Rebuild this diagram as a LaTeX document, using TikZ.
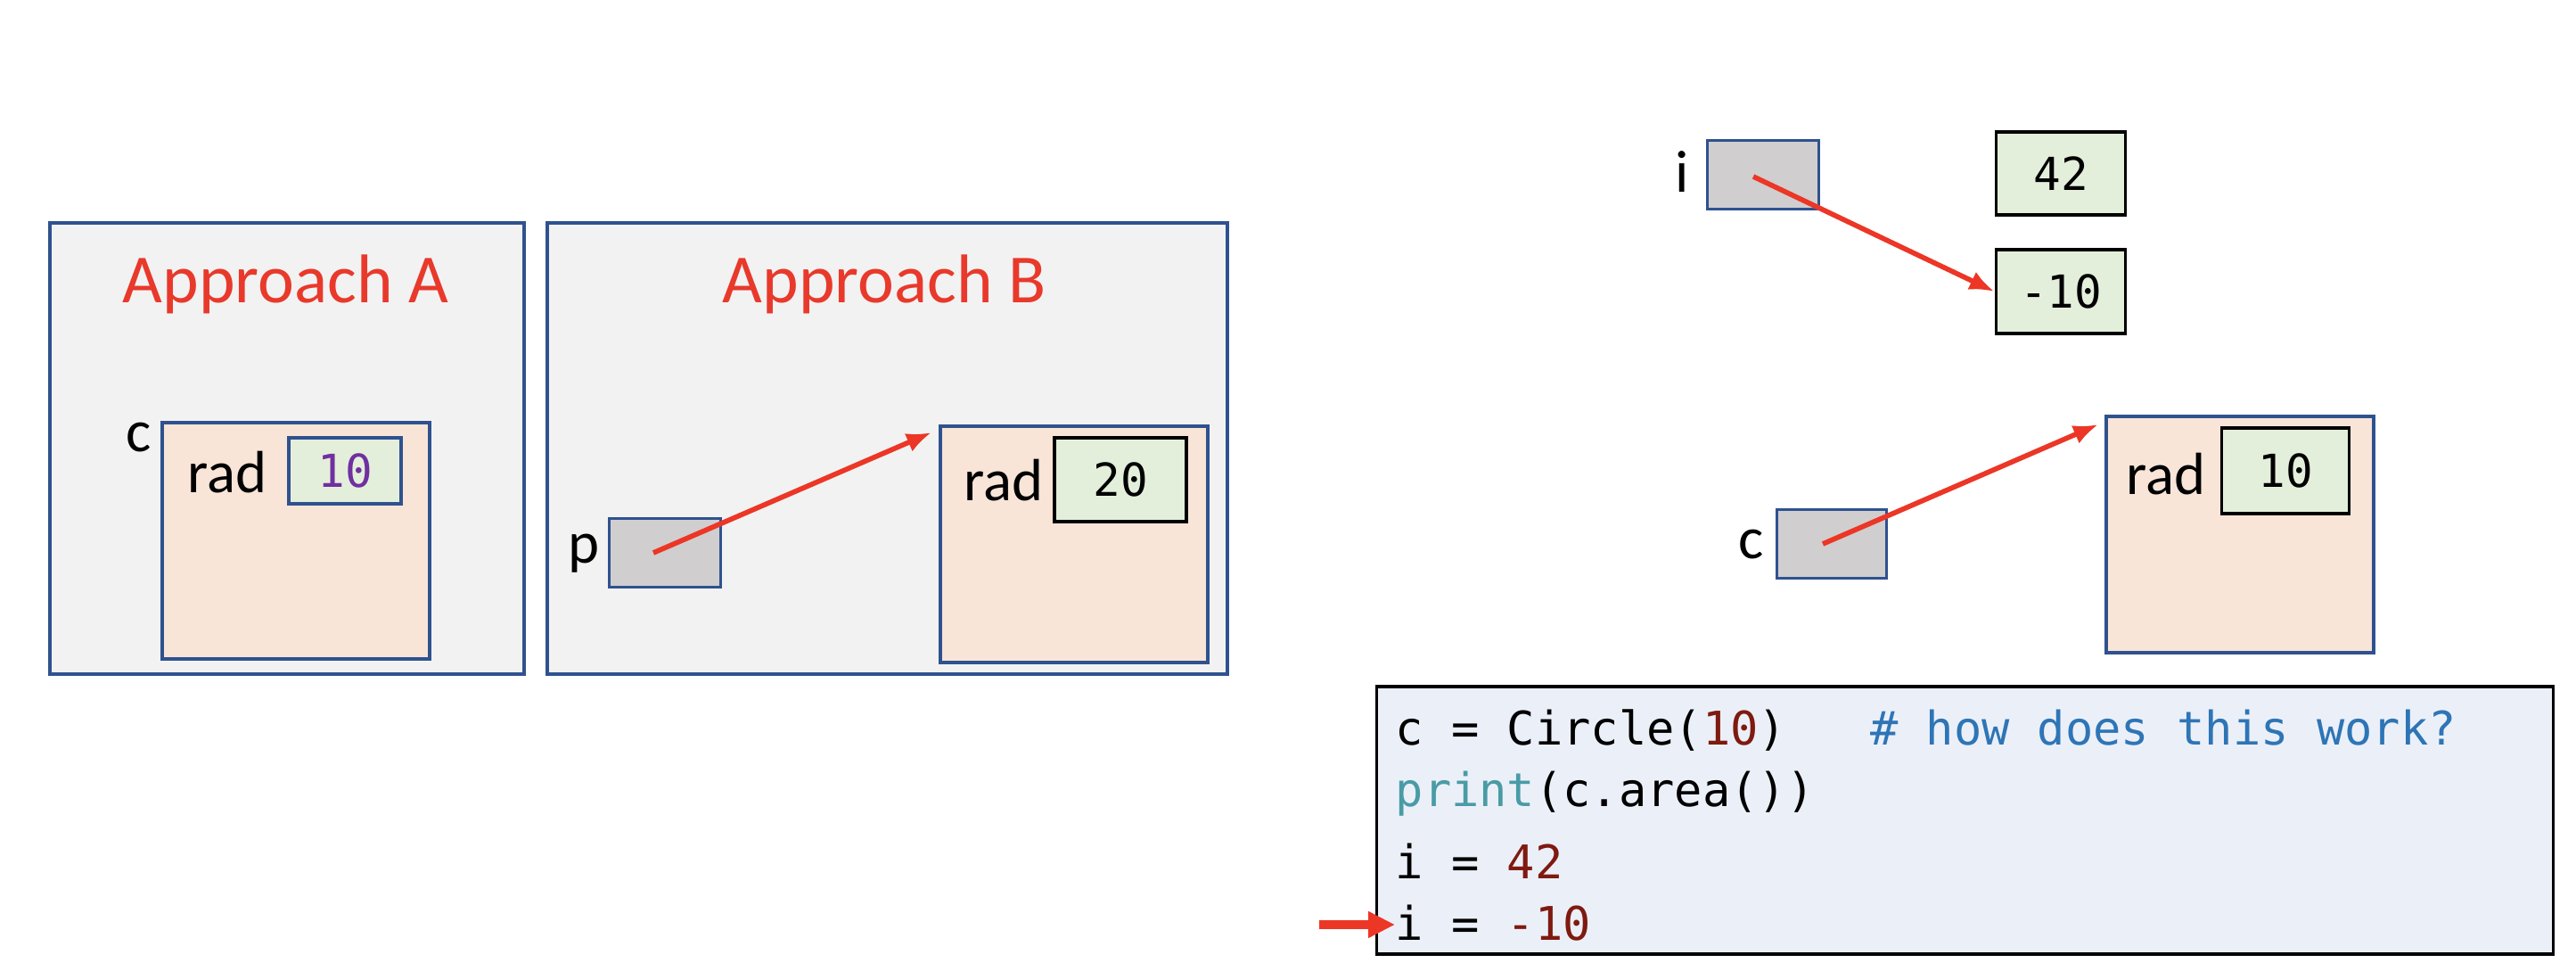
\documentclass[tikz,border=0pt]{standalone}
\usepackage{fontspec}
\setmainfont{Carlito}
\newfontfamily\codefont{DejaVu Sans Mono}
\usetikzlibrary{arrows.meta}
\definecolor{panelfill}{HTML}{F2F2F2}
\definecolor{boxblue}{HTML}{2F528F}
\definecolor{objfill}{HTML}{F8E5D8}
\definecolor{valfill}{HTML}{E4EFDB}
\definecolor{ptrfill}{HTML}{D0CECE}
\definecolor{ptrred}{HTML}{EC3626}
\definecolor{titlered}{HTML}{E8392B}
\definecolor{numpurple}{HTML}{7030A0}
\definecolor{numred}{HTML}{7F1A10}
\definecolor{cmtblue}{HTML}{2E75B6}
\definecolor{fnteal}{HTML}{4A9BA6}
\definecolor{codefill}{HTML}{EBF0F8}
\tikzset{
  panel/.style={shape=rectangle,draw=boxblue,fill=panelfill,line width=1.1pt,inner sep=0pt},
  objbox/.style={shape=rectangle,draw=boxblue,fill=objfill,line width=1.1pt,inner sep=0pt,
    minimum width=3.0cm,minimum height=2.65cm},
  valbox/.style={shape=rectangle,draw=black,fill=valfill,line width=1.1pt,inner sep=0pt,
    font=\codefont\fontsize{14.5}{17}\selectfont},
  ptrbox/.style={shape=rectangle,draw=boxblue,fill=ptrfill,line width=1.1pt,inner sep=0pt,
    minimum width=1.25cm,minimum height=0.77cm},
  varname/.style={font=\fontsize{19}{22}\selectfont,inner sep=0pt},
  title/.style={font=\fontsize{22}{26}\selectfont,text=titlered},
  codeline/.style={anchor=base west,inner sep=0pt,font=\codefont\fontsize{14.8}{18}\selectfont},
  ptr/.style={-{Latex[length=2.8mm,width=2.2mm]},line width=1.6pt,draw=ptrred}
}
\begin{document}
\begin{tikzpicture}
\fill[white] (0,0) rectangle (28.9,10.8);
\useasboundingbox (0,0) rectangle (28.9,10.8);

% approach A
\node(panelA) [panel,minimum width=5.32cm,minimum height=5.06cm] at (3.219,5.77) {};
\node(titleA) [title] at (3.204,7.61) {Approach A};
\node(objA) [objbox] at (3.323,4.735) {};
\node(cA) [varname] at (1.552,5.89) {c};
\node(radA) [varname] at (2.547,5.50) {rad};
\node(valA) [valbox,draw=boxblue,text=numpurple,minimum width=1.254cm,minimum height=0.74cm] at (3.871,5.52) {10};

% approach B
\node(panelB) [panel,minimum width=7.63cm,minimum height=5.06cm] at (9.955,5.77) {};
\node(titleB) [title] at (9.92,7.61) {Approach B};
\node(ptrB) [ptrbox] at (7.46,4.60) {};
\node(pB) [varname] at (6.547,4.59) {p};
\node(objB) [objbox] at (12.05,4.695) {};
\node(radB) [varname] at (11.26,5.41) {rad};
\node(valB) [valbox,minimum width=1.48cm,minimum height=0.94cm] at (12.57,5.42) {20};
\draw [ptr] ([xshift=-1.3mm]ptrB.center) -- ([xshift=-0.8mm,yshift=-0.9mm]objB.north west);

% i rebinding
\node(ptrI) [ptrbox] at (19.78,8.84) {};
\node(iR) [varname] at (18.87,8.87) {i};
\node(v42) [valbox,minimum width=1.45cm,minimum height=0.93cm] at (23.12,8.855) {42};
\node(vm10) [valbox,minimum width=1.45cm,minimum height=0.94cm] at (23.12,7.53) {-10};
\draw [ptr] ([xshift=-1.1mm,yshift=-0.2mm]ptrI.center) -- (vm10.west);

% c object
\node(ptrC) [ptrbox,minimum width=1.23cm] at (20.55,4.70) {};
\node(cR) [varname] at (19.65,4.69) {c};
\node(objR) [objbox] at (25.13,4.805) {};
\node(radR) [varname] at (24.30,5.48) {rad};
\node(valR) [valbox,minimum width=1.43cm,minimum height=0.96cm] at (25.64,5.52) {10};
\draw [ptr] ([xshift=-1mm]ptrC.center) -- ([xshift=-0.7mm,yshift=-1.1mm]objR.north west);

% code
\node(code) [shape=rectangle,draw=black,fill=codefill,line width=1.1pt,
  minimum width=13.2cm,minimum height=3.0cm] at (22.045,1.60) {};
\node(code1) [codeline] at (15.65,2.44) {c = Circle(\textcolor{numred}{10})~~~\textcolor{cmtblue}{\# how does this work?}};
\node(code2) [codeline] at (15.65,1.75) {\textcolor{fnteal}{print}(c.area())};
\node(code3) [codeline] at (15.65,0.94) {i = \textcolor{numred}{42}};
\node(code4) [codeline] at (15.65,0.25) {i = \textcolor{numred}{-10}};
\coordinate(now) at (14.80,0.43);
\draw [-{Triangle[length=3mm,width=2.8mm]},line width=1mm,draw=ptrred] (now) -- (now -| code4.west);
\end{tikzpicture}
\end{document}
